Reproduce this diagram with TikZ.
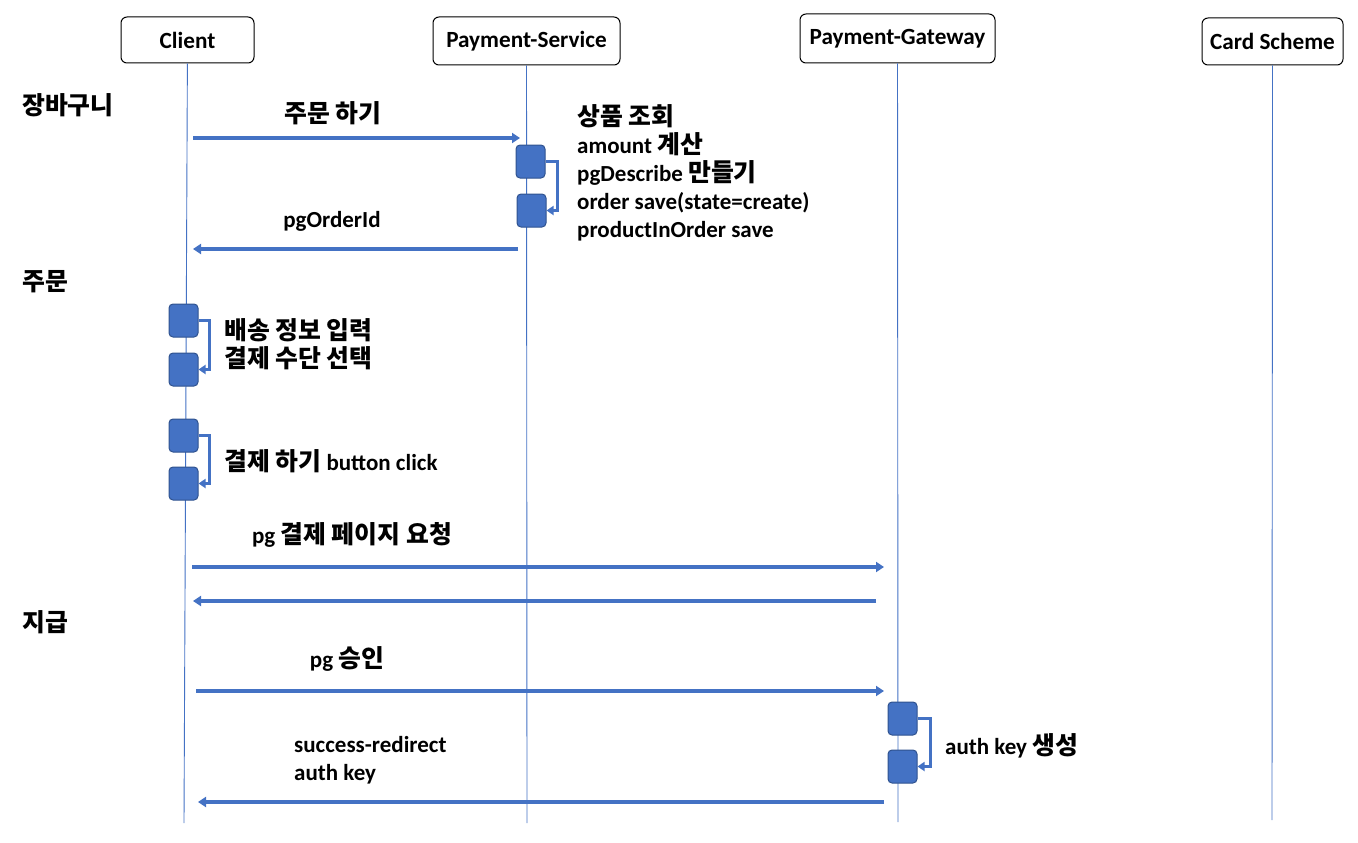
\documentclass[tikz,border=0pt]{standalone}
\usepackage{fontspec}
\setmainfont{Carlito}
\newfontfamily\kr{Noto Sans CJK KR}[Scale=1.08]
\usetikzlibrary{arrows.meta}
\definecolor{msgblue}{HTML}{4472C4}
\definecolor{actline}{HTML}{2F528F}

\begin{document}
\begin{tikzpicture}[x=1pt,y=-1pt,
    actor/.style={shape=rectangle,rounded corners=6pt,draw=black,line width=1pt,fill=white,font=\fontsize{23.2}{28}\selectfont\bfseries},
    lifeline/.style={draw=msgblue,line width=0.9pt},
    act/.style={shape=rectangle,rounded corners=4pt,draw=actline,line width=1pt,fill=msgblue,minimum width=29pt,minimum height=33pt},
    msg/.style={draw=msgblue,line width=3.2pt,-{Triangle[length=8pt,width=10pt]}},
    selfmsg/.style={draw=msgblue,line width=2.8pt,-{Triangle[length=7pt,width=9pt]}},
    txt/.style={inner sep=0pt,font=\fontsize{23}{28}\selectfont\bfseries,align=left}]
        \useasboundingbox (0,0) rectangle (1358,843);

        % participants
        \node[actor,minimum width=133pt,minimum height=46pt] (client) at (187.5, 40)   {Client};
        \node[actor,minimum width=187pt,minimum height=48pt] (ps)     at (526.5, 41)   {Payment-Service};
        \node[actor,minimum width=195pt,minimum height=49pt] (pg)     at (897.5, 38.5) {Payment-Gateway};
        \node[actor,minimum width=141pt,minimum height=47pt] (cs)     at (1272.5, 41.5) {Card Scheme};

        \coordinate (clientEnd) at (184, 823);
        \coordinate (psEnd)     at (527, 823);
        \coordinate (pgEnd)     at (898, 822);
        \coordinate (csEnd)     at (1272, 820);

        \draw[lifeline] (client) -- (clientEnd);
        \draw[lifeline] (ps) -- (psEnd);
        \draw[lifeline] (pg) -- (pgEnd);
        \draw[lifeline] (cs) -- (csEnd);

        % activations
        \node[act] (p1) at (530.5, 161.5) {};
        \node[act] (p2) at (531.5, 210.5) {};
        \node[act] (a1) at (183.5, 320.5) {};
        \node[act] (a2) at (183.5, 369.5) {};
        \node[act] (a3) at (183.5, 435.5) {};
        \node[act] (a4) at (183.5, 483.5) {};
        \node[act] (g1) at (902.5, 718.5) {};
        \node[act] (g2) at (902.5, 766.5) {};

        % sections
        \node[txt,anchor=west] (cart)  at (22, 105) {\kr 장바구니};
        \node[txt,anchor=west] (order) at (22, 282) {\kr 주문};
        \node[txt,anchor=west] (pay)   at (22, 622) {\kr 지급};

        % messages
        \coordinate (m1a) at (193, 138);  \coordinate (m1b) at (520, 138);
        \coordinate (m2a) at (518, 249);  \coordinate (m2b) at (193, 249);
        \coordinate (m3a) at (192, 567);  \coordinate (m3b) at (884, 567);
        \coordinate (m4a) at (876, 601);  \coordinate (m4b) at (193, 601);
        \coordinate (m5a) at (196, 691);  \coordinate (m5b) at (884, 691);
        \coordinate (m6a) at (884, 802);  \coordinate (m6b) at (198, 802);

        \draw[msg] (m1a) -- (m1b);
        \draw[msg] (m2a) -- (m2b);
        \draw[msg] (m3a) -- (m3b);
        \draw[msg] (m4a) -- (m4b);
        \draw[msg] (m5a) -- (m5b);
        \draw[msg] (m6a) -- (m6b);

        \draw[selfmsg] (p1.east) -- ++(12,0) |- (p2.east);
        \draw[selfmsg] (a1.east) -- ++(11,0) |- (a2.east);
        \draw[selfmsg] (a3.east) -- ++(11,0) |- (a4.east);
        \draw[selfmsg] (g1.east) -- ++(13,0) |- (g2.east);

        % labels
        \node[txt] (l1) at (333, 113) {\kr 주문 하기};
        \node[txt,anchor=west] (l2) at (577, 173) {{\kr 상품 조회}\\amount {\kr 계산}\\pgDescribe {\kr 만들기}\\order save(state=create)\\productInOrder save};
        \node[txt] (l3) at (332, 221) {pgOrderId};
        \node[txt,anchor=west] (l4) at (224, 344) {{\kr 배송 정보 입력}\\{\kr 결제 수단 선택}};
        \node[txt,anchor=west] (l5) at (224, 461) {{\kr 결제 하기} button click};
        \node[txt] (l6) at (352, 535) {pg {\kr 결제 페이지 요청}};
        \node[txt] (l7) at (347, 659) {pg {\kr 승인}};
        \node[txt,anchor=west] (l8) at (945, 746) {auth key {\kr 생성}};
        \node[txt,anchor=west] (l9) at (294, 760) {success-redirect\\auth key};
\end{tikzpicture}
\end{document}
